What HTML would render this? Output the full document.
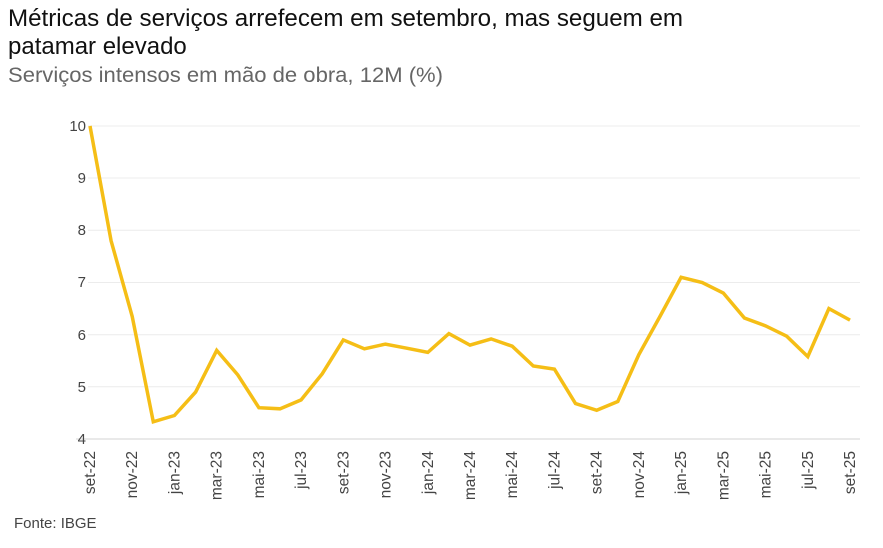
<!DOCTYPE html>
<html><head><meta charset="utf-8"><style>
body{margin:0;background:#fff;width:883px;height:543px;overflow:hidden;font-family:"Liberation Sans",sans-serif}
</style></head><body>
<svg width="883" height="543" xmlns="http://www.w3.org/2000/svg" font-family="Liberation Sans, sans-serif">
<text x="8" y="26" font-size="24" fill="#111" textLength="675" lengthAdjust="spacingAndGlyphs">Métricas de serviços arrefecem em setembro, mas seguem em</text>
<text x="8" y="54" font-size="24" fill="#111">patamar elevado</text>
<text x="8" y="82" font-size="21.5" fill="#666" textLength="435" lengthAdjust="spacingAndGlyphs">Serviços intensos em mão de obra, 12M (%)</text>
<g stroke="#ececec" stroke-width="1">
<line x1="88" x2="860" y1="126" y2="126"/><line x1="88" x2="860" y1="178" y2="178"/>
<line x1="88" x2="860" y1="230.3" y2="230.3"/><line x1="88" x2="860" y1="282.5" y2="282.5"/>
<line x1="88" x2="860" y1="334.7" y2="334.7"/><line x1="88" x2="860" y1="386.8" y2="386.8"/>
<line x1="76" x2="860" y1="439" y2="439" stroke="#e2e2e2" stroke-width="1.5"/>
</g>
<g font-size="15" fill="#444" text-anchor="end">
<text x="86" y="131">10</text><text x="86" y="183">9</text><text x="86" y="235">8</text>
<text x="86" y="287">7</text><text x="86" y="340">6</text><text x="86" y="392">5</text><text x="86" y="444">4</text>
</g>
<polyline fill="none" stroke="#F5BE16" stroke-width="3.5" stroke-linejoin="miter" points="90,126 111.1,240.8 132.2,316.4 153.3,421.8 174.4,415.5 195.6,392.1 216.7,350.4 237.8,374.9 258.9,407.7 280,408.8 301.1,399.9 322.2,373.8 343.3,339.9 364.4,348.8 385.5,344.1 406.7,348.2 427.8,352.4 448.9,333.6 470,345.1 491.1,338.9 512.2,346.2 533.3,366 554.4,369.1 575.5,403.5 596.7,410.3 617.8,401.5 638.9,354.5 660,316.4 681.1,277.3 702.2,282.5 723.3,293 744.4,318 765.5,325.8 786.7,336.2 807.8,356.6 828.9,308.6 850,320.1"/>
<g font-size="15.5" fill="#444" text-anchor="end">
<text transform="translate(95,451) rotate(-90)">set-22</text>
<text transform="translate(137.2,451) rotate(-90)">nov-22</text>
<text transform="translate(179.4,451) rotate(-90)">jan-23</text>
<text transform="translate(221.7,451) rotate(-90)">mar-23</text>
<text transform="translate(263.9,451) rotate(-90)">mai-23</text>
<text transform="translate(306.1,451) rotate(-90)">jul-23</text>
<text transform="translate(348.3,451) rotate(-90)">set-23</text>
<text transform="translate(390.5,451) rotate(-90)">nov-23</text>
<text transform="translate(432.8,451) rotate(-90)">jan-24</text>
<text transform="translate(475,451) rotate(-90)">mar-24</text>
<text transform="translate(517.2,451) rotate(-90)">mai-24</text>
<text transform="translate(559.4,451) rotate(-90)">jul-24</text>
<text transform="translate(601.7,451) rotate(-90)">set-24</text>
<text transform="translate(643.9,451) rotate(-90)">nov-24</text>
<text transform="translate(686.1,451) rotate(-90)">jan-25</text>
<text transform="translate(728.3,451) rotate(-90)">mar-25</text>
<text transform="translate(770.5,451) rotate(-90)">mai-25</text>
<text transform="translate(812.8,451) rotate(-90)">jul-25</text>
<text transform="translate(855,451) rotate(-90)">set-25</text>
</g>
<text x="14" y="528" font-size="15" fill="#444">Fonte: IBGE</text>
</svg>
</body></html>
